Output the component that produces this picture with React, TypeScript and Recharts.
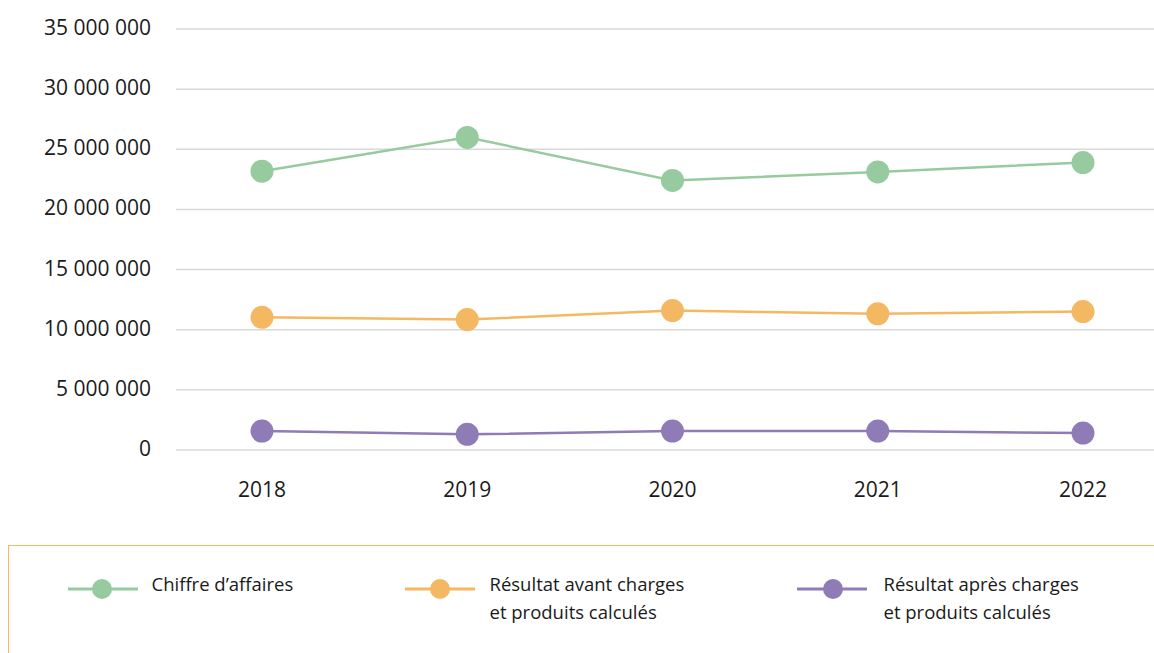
import React from "react";
import { LineChart, Line, XAxis, YAxis, CartesianGrid, Legend } from "recharts";

const years = ["2018", "2019", "2020", "2021", "2022"];
const chiffreAffaires = [23180000, 25990000, 22410000, 23120000, 23900000];
const resultatAvant = [11030000, 10840000, 11590000, 11320000, 11510000];
const resultatApres = [1570000, 1300000, 1570000, 1570000, 1410000];
const yTicks = [0, 5000000, 10000000, 15000000, 20000000, 25000000, 30000000, 35000000];

const seriesNames = {
  ca: "Chiffre d’affaires",
  avant: "Résultat avant charges\net produits calculés",
  apres: "Résultat après charges\net produits calculés",
};

const COLORS = { ca: "#97CA9E", avant: "#F5B862", apres: "#8F7BB6" };

const data = years.map((y, i) => ({
  year: y,
  ca: chiffreAffaires[i],
  avant: resultatAvant[i],
  apres: resultatApres[i],
}));

const FONT = "'Open Sans', sans-serif";

const fmt = (v: number) => String(v).replace(/\B(?=(\d{3})+(?!\d))/g, " ");

const YTick = (props: any) => {
  const { x, y, payload } = props;
  return (
    <text x={x} y={y} dy={-2} textAnchor="end" dominantBaseline="central" fontFamily={FONT} fontSize={21} fill="#1a1a1a">
      {fmt(payload.value)}
    </text>
  );
};

const XTick = (props: any) => {
  const { x, y, payload } = props;
  return (
    <text x={x} y={y} dy={15} textAnchor="middle" fontFamily={FONT} fontSize={21} fill="#1a1a1a">
      {payload.value}
    </text>
  );
};

const legendLayout: Record<string, { lineX: number; dotX: number; textX: number }> = {
  ca: { lineX: 60, dotX: 94, textX: 144 },
  avant: { lineX: 397, dotX: 432, textX: 482 },
  apres: { lineX: 789, dotX: 825, textX: 876 },
};

const LegendContent = (props: any) => {
  const { payload } = props;
  return (
    <div
      style={{
        position: "relative",
        width: 1160,
        height: 108,
        borderTop: "1.5px solid #F7B964",
        borderLeft: "1.5px solid #F7B964",
        boxSizing: "border-box",
        fontFamily: FONT,
      }}
    >
      {(payload || []).map((entry: any) => {
        const key = entry.dataKey as string;
        const lay = legendLayout[key];
        const color = entry.color;
        const lines = (seriesNames as any)[key].split("\n");
        return (
          <React.Fragment key={key}>
            <svg style={{ position: "absolute", left: lay.lineX - 1.5, top: 30 }} width={72} height={30}>
              <line x1={0} y1={13} x2={70} y2={13} stroke={color} strokeWidth={3} />
              <circle cx={lay.dotX - lay.lineX} cy={13} r={10} fill={color} />
            </svg>
            <div
              style={{
                position: "absolute",
                left: lay.textX - 1.5,
                top: 24,
                fontSize: 18.5,
                lineHeight: "28px",
                color: "#1a1a1a",
                whiteSpace: "nowrap",
              }}
            >
              {lines.map((l: string, i: number) => (
                <div key={i}>{l}</div>
              ))}
            </div>
          </React.Fragment>
        );
      })}
    </div>
  );
};

export default function App() {
  return (
    <>
      <style>{`html, body { overflow: hidden; }`}</style>
      <div style={{ position: "absolute", left: 8, top: 8, width: 1146, height: 645, overflow: "hidden" }}>
        <LineChart width={1146} height={645} data={data} margin={{ top: 21, right: 0, bottom: 0, left: 0 }}>
          <CartesianGrid vertical={false} stroke="#D9D9D9" strokeWidth={1.5} />
          <XAxis
            dataKey="year"
            axisLine={false}
            tickLine={false}
            tickSize={0}
            tickMargin={32}
            height={95}
            padding={{ left: 86, right: 71 }}
            tick={<XTick />}
          />
          <YAxis
            domain={[0, 35000000]}
            ticks={yTicks}
            interval={0}
            axisLine={false}
            tickLine={false}
            tickSize={0}
            tickMargin={25}
            width={168}
            tick={<YTick />}
          />
          <Legend verticalAlign="bottom" height={108} content={<LegendContent />} wrapperStyle={{ left: 0, bottom: 0 }} />
          <Line dataKey="ca" name={seriesNames.ca} stroke={COLORS.ca} strokeWidth={2.5} dot={{ r: 11.5, fill: COLORS.ca, stroke: "none" }} activeDot={false} isAnimationActive={false} />
          <Line dataKey="avant" name={seriesNames.avant} stroke={COLORS.avant} strokeWidth={2.5} dot={{ r: 11.5, fill: COLORS.avant, stroke: "none" }} activeDot={false} isAnimationActive={false} />
          <Line dataKey="apres" name={seriesNames.apres} stroke={COLORS.apres} strokeWidth={2.5} dot={{ r: 11.5, fill: COLORS.apres, stroke: "none" }} activeDot={false} isAnimationActive={false} />
        </LineChart>
      </div>
    </>
  );
}
